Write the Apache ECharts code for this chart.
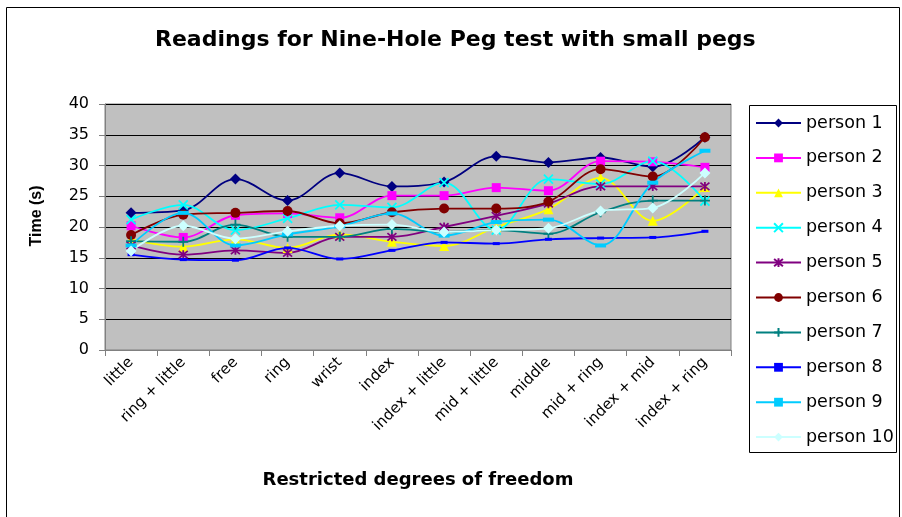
<!DOCTYPE html>
<html>
<head>
<meta charset="utf-8">
<script src="https://cdn.jsdelivr.net/npm/echarts@6/dist/echarts.min.js"></script>
<style>
  html, body { margin: 0; background: #fff; }
  #chart { width: 902px; height: 517px; }
</style>
</head>
<body>
<div id="chart"></div>
<script>
// data
const categories = ['little', 'ring + little', 'free', 'ring', 'wrist', 'index',
  'index + little', 'mid + little', 'middle', 'mid + ring', 'index + mid', 'index + ring'];
const yTicks = [0, 5, 10, 15, 20, 25, 30, 35, 40];

const person1  = [22.3, 22.7, 27.8, 24.3, 28.8, 26.6, 27.3, 31.5, 30.5, 31.3, 29.8, 34.6];
const person2  = [20.2, 18.3, 21.9, 22.2, 21.5, 25.1, 25.1, 26.4, 25.9, 30.7, 30.6, 29.7];
const person3  = [18.0, 16.8, 18.0, 16.6, 18.8, 17.6, 16.9, 20.0, 22.9, 28.0, 21.0, 26.5];
const person4  = [21.2, 23.6, 19.5, 21.4, 23.6, 23.2, 27.2, 19.5, 27.8, 27.0, 30.7, 24.2];
const person5  = [17.0, 15.5, 16.2, 15.8, 18.4, 18.4, 20.0, 21.8, 23.8, 26.6, 26.6, 26.6];
const person6  = [18.7, 22.0, 22.3, 22.6, 20.6, 22.4, 23.0, 23.0, 24.1, 29.4, 28.2, 34.6];
const person7  = [17.7, 17.6, 20.4, 18.4, 18.4, 19.7, 19.2, 19.5, 18.9, 22.4, 24.3, 24.3];
const person8  = [15.5, 14.7, 14.6, 16.6, 14.8, 16.2, 17.5, 17.3, 18.0, 18.2, 18.3, 19.3];
const person9  = [17.0, 22.3, 17.0, 18.8, 20.1, 22.2, 18.6, 20.8, 21.2, 17.0, 27.2, 32.4];
const person10 = [16.1, 20.2, 18.1, 19.3, 20.2, 20.4, 19.2, 19.5, 19.8, 22.6, 23.1, 28.8];

const seriesNames = ['person 1', 'person 2', 'person 3', 'person 4', 'person 5',
  'person 6', 'person 7', 'person 8', 'person 9', 'person 10'];
const seriesValues = [person1, person2, person3, person4, person5,
  person6, person7, person8, person9, person10];

// Excel-like marker look
const X_PATH = 'path://M0,0L10,10M10,0L0,10';
const STAR_PATH = 'path://M0,0L10,10M10,0L0,10M5,-1L5,11';
const PLUS_PATH = 'path://M5,0L5,10M0,5L10,5';
const looks = [
  { color: '#000080', symbol: 'diamond', size: 11 },
  { color: '#FF00FF', symbol: 'rect', size: 9 },
  { color: '#FFFF00', symbol: 'triangle', size: 10 },
  { color: '#00FFFF', symbol: X_PATH, size: 9, stroke: true },
  { color: '#800080', symbol: STAR_PATH, size: 9, stroke: true },
  { color: '#800000', symbol: 'circle', size: 10 },
  { color: '#008080', symbol: PLUS_PATH, size: 10, stroke: true },
  { color: '#0000FF', symbol: 'rect', size: [7, 3] },
  { color: '#00CCFF', symbol: 'rect', size: [11, 4] },
  { color: '#CCFFFF', symbol: 'diamond', size: 11 }
];

// the source picture is stretched sideways, a wide face fits it better
const WIDE = 'DejaVu Sans, Verdana, sans-serif';
const ARIAL = 'Liberation Sans, Arial, sans-serif';

const series = seriesNames.map((name, i) => {
  const lk = looks[i];
  return {
    name,
    type: 'line',
    data: seriesValues[i],
    smooth: 0.35,
    symbol: lk.symbol,
    symbolSize: lk.size,
    showAllSymbol: true,
    lineStyle: { color: lk.color, width: 1.8 },
    itemStyle: lk.stroke
      ? { color: lk.color, borderColor: lk.color, borderWidth: 1.8 }
      : { color: lk.color, borderWidth: 0 },
    emphasis: { disabled: true }
  };
});

const chart = echarts.init(document.getElementById('chart'), null, { renderer: 'canvas' });
chart.setOption({
  animation: false,
  backgroundColor: '#fff',
  textStyle: { fontFamily: WIDE, color: '#000' },
  title: {
    text: 'Readings for Nine-Hole Peg test with small pegs',
    left: 155,
    top: 29,
    padding: 0,
    textStyle: { fontFamily: WIDE, fontSize: 22, fontWeight: 'bold', color: '#000' }
  },
  graphic: [
    { type: 'rect', shape: { x: 6.5, y: 7.5, width: 893, height: 520 },
      style: { fill: 'none', stroke: '#000', lineWidth: 1 }, silent: true },
    { type: 'rect', shape: { x: 749.5, y: 105.5, width: 147, height: 347 },
      style: { fill: 'none', stroke: '#000', lineWidth: 1 }, silent: true }
  ],
  legend: {
    orient: 'vertical',
    left: 755,
    top: 114,
    padding: 0,
    itemWidth: 45,
    itemHeight: 11,
    itemGap: 16.9,
    data: seriesNames,
    textStyle: { fontFamily: WIDE, fontSize: 17.5, color: '#000' }
  },
  grid: {
    left: 105, top: 104, right: 171, bottom: 167,
    show: true, backgroundColor: '#C0C0C0', borderColor: '#808080', borderWidth: 1
  },
  xAxis: {
    type: 'category',
    data: categories,
    boundaryGap: true,
    name: 'Restricted degrees of freedom',
    nameLocation: 'middle',
    nameGap: 121,
    nameTextStyle: { fontFamily: WIDE, fontSize: 18, fontWeight: 'bold', color: '#000' },
    axisLine: { lineStyle: { color: '#808080', width: 1 } },
    axisTick: { show: true, length: 6, lineStyle: { color: '#808080' } },
    axisLabel: { interval: 0, rotate: 45, margin: 10, fontSize: 15, color: '#000', fontFamily: WIDE },
    splitLine: { show: false }
  },
  yAxis: {
    type: 'value',
    min: yTicks[0],
    max: yTicks[yTicks.length - 1],
    interval: yTicks[1] - yTicks[0],
    name: 'Time (s)',
    nameLocation: 'middle',
    nameGap: 60,
    nameTextStyle: { fontFamily: ARIAL, fontSize: 16, fontWeight: 'bold', color: '#000', padding: [0, 0, 0, 22] },
    axisLine: { show: true, lineStyle: { color: '#808080', width: 1 } },
    axisTick: { show: true, length: 6, lineStyle: { color: '#808080' } },
    axisLabel: { margin: 16, fontSize: 16, color: '#000', fontFamily: WIDE },
    splitLine: { show: true, lineStyle: { color: '#000', width: 1 } }
  },
  series
});
</script>
</body>
</html>
